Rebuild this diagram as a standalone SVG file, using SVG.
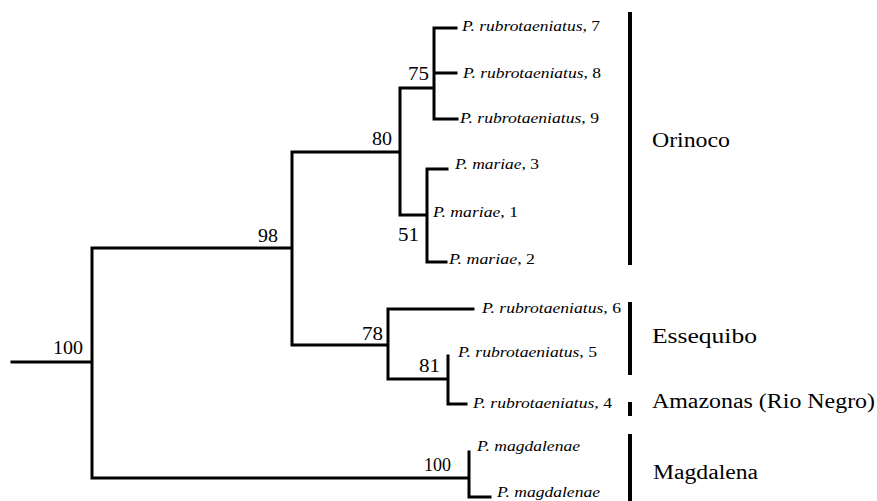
<svg xmlns="http://www.w3.org/2000/svg" width="877" height="501" viewBox="0 0 877 501">
<style>
.e{fill:none;stroke:#000;stroke-width:3;stroke-linecap:square}
.bar{fill:#000}
text{font-family:'Liberation Serif','Tinos','Nimbus Roman','Nimbus Roman No9 L','FreeSerif','Times New Roman',Times,'DejaVu Serif','Noto Serif',serif;fill:#000}
.tx{font-size:15px;font-style:italic}
.tx tspan{font-style:normal}
.num{font-size:18px}
.reg{font-size:20.5px}
</style>
<rect width="877" height="501" fill="#fff"/>
<g id="connectors">
<path class="e" d="M12,362H92M92,248V478M92,248H292M292,152V345M292,152H400M400,88V215M400,88H434M434,28V119M434,28H456M434,73H456M434,119H457M400,215H427M427,169V262M427,169H447M427,262H446M292,345H388M388,309V379M388,309H473M388,379H448M448,356V404M448,404H466M92,478H469M469,452V497M469,497H490"/>
</g>
<g id="n-root"><text class="num" x="53" y="354" textLength="30" lengthAdjust="spacingAndGlyphs">100</text></g>
<g id="n-98"><text class="num" x="258" y="242" textLength="20" lengthAdjust="spacingAndGlyphs">98</text></g>
<g id="n-80"><text class="num" x="372" y="145" textLength="20" lengthAdjust="spacingAndGlyphs">80</text></g>
<g id="n-75"><text class="num" x="408" y="80" textLength="21" lengthAdjust="spacingAndGlyphs">75</text></g>
<g id="n-51"><text class="num" x="398" y="241" textLength="21" lengthAdjust="spacingAndGlyphs">51</text></g>
<g id="n-78"><text class="num" x="362" y="340" textLength="21" lengthAdjust="spacingAndGlyphs">78</text></g>
<g id="n-81"><text class="num" x="419" y="372" textLength="21" lengthAdjust="spacingAndGlyphs">81</text></g>
<g id="n-magd"><text class="num" x="424" y="471" textLength="27" lengthAdjust="spacingAndGlyphs">100</text></g>
<g id="t-r7"><text class="tx" x="462" y="31" textLength="138" lengthAdjust="spacingAndGlyphs">P. rubrotaeniatus<tspan>, 7</tspan></text></g>
<g id="t-r8"><text class="tx" x="463" y="78" textLength="138" lengthAdjust="spacingAndGlyphs">P. rubrotaeniatus<tspan>, 8</tspan></text></g>
<g id="t-r9"><text class="tx" x="460" y="123" textLength="139" lengthAdjust="spacingAndGlyphs">P. rubrotaeniatus<tspan>, 9</tspan></text></g>
<g id="t-m3"><text class="tx" x="455" y="169" textLength="84" lengthAdjust="spacingAndGlyphs">P. mariae<tspan>, 3</tspan></text></g>
<g id="t-m1"><text class="tx" x="433" y="217" textLength="85" lengthAdjust="spacingAndGlyphs">P. mariae<tspan>, 1</tspan></text></g>
<g id="t-m2"><text class="tx" x="449" y="264" textLength="86" lengthAdjust="spacingAndGlyphs">P. mariae<tspan>, 2</tspan></text></g>
<g id="t-r6"><text class="tx" x="482" y="313" textLength="139" lengthAdjust="spacingAndGlyphs">P. rubrotaeniatus<tspan>, 6</tspan></text></g>
<g id="t-r5"><text class="tx" x="458" y="357" textLength="139" lengthAdjust="spacingAndGlyphs">P. rubrotaeniatus<tspan>, 5</tspan></text></g>
<g id="t-r4"><text class="tx" x="473" y="408" textLength="139" lengthAdjust="spacingAndGlyphs">P. rubrotaeniatus<tspan>, 4</tspan></text></g>
<g id="t-mg1"><text class="tx" x="477" y="451" textLength="103" lengthAdjust="spacingAndGlyphs">P. magdalenae</text></g>
<g id="t-mg2"><text class="tx" x="497" y="497" textLength="103" lengthAdjust="spacingAndGlyphs">P. magdalenae</text></g>
<g id="r-orinoco"><rect class="bar" x="628" y="12" width="4" height="253"/><text class="reg" x="652" y="147" textLength="78" lengthAdjust="spacingAndGlyphs">Orinoco</text></g>
<g id="r-essequibo"><rect class="bar" x="628" y="302" width="4" height="73"/><text class="reg" x="652" y="343" textLength="105" lengthAdjust="spacingAndGlyphs">Essequibo</text></g>
<g id="r-amazonas"><rect class="bar" x="628" y="402" width="4" height="14"/><text class="reg" x="652" y="408" textLength="223" lengthAdjust="spacingAndGlyphs">Amazonas (Rio Negro)</text></g>
<g id="r-magdalena"><rect class="bar" x="628" y="434" width="4" height="67"/><text class="reg" x="653" y="479" textLength="105" lengthAdjust="spacingAndGlyphs">Magdalena</text></g>
</svg>
